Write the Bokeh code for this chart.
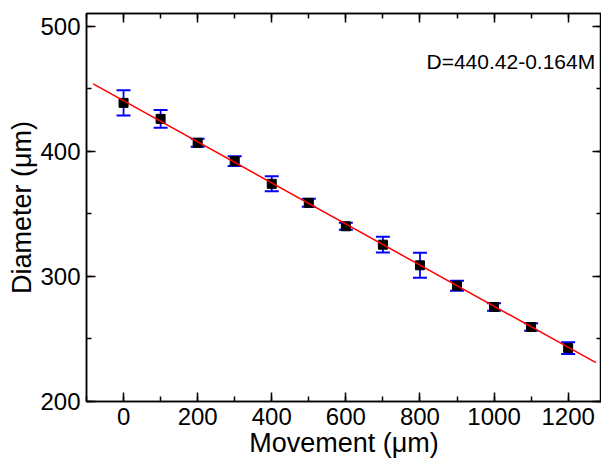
from bokeh.plotting import figure
from bokeh.models import (ColumnDataSource, Whisker, LinearAxis, SingleIntervalTicker,
                          Range1d, Label, CustomJSTickFormatter)
from bokeh.embed import file_html
from bokeh.resources import INLINE

# ---- data ----
movement = [0, 100, 200, 300, 400, 500, 600, 700, 800, 900, 1000, 1100, 1200]
diameter = [438.6, 425.8, 406.7, 392.0, 373.9, 358.7, 340.0, 325.3, 308.8, 292.5, 275.5, 259.5, 242.7]
error = [10.0, 7.0, 3.2, 3.9, 6.0, 3.2, 2.8, 6.3, 10.0, 4.0, 3.0, 3.0, 4.7]
fit_x = [-82, 1275]
fit_y = [453.8, 231.0]
fit_label = "D=440.42-0.164M"

FONT = "Liberation Sans"
BLUE = "#0000ff"

lower = [d - e for d, e in zip(diameter, error)]
upper = [d + e for d, e in zip(diameter, error)]
src = ColumnDataSource(dict(x=movement, y=diameter, lower=lower, upper=upper))

p = figure(width=601, height=460, output_backend="svg", toolbar_location=None,
           x_range=Range1d(-100, 1290), y_range=Range1d(200, 510),
           min_border_left=86, min_border_right=0, min_border_top=13, min_border_bottom=59,
           background_fill_color="white", border_fill_color="white")
p.xgrid.visible = False
p.ygrid.visible = False
p.outline_line_color = "black"
p.outline_line_width = 1.5

def style(ax, labels=True):
    ax.axis_line_color = "black"
    ax.axis_line_width = 1.5
    ax.major_tick_line_color = "black"
    ax.major_tick_line_width = 1.5
    ax.minor_tick_line_color = "black"
    ax.minor_tick_line_width = 1.5
    ax.major_tick_in = 9
    ax.major_tick_out = 0
    ax.minor_tick_in = 5
    ax.minor_tick_out = 0
    if labels:
        ax.major_label_text_font = FONT
        ax.major_label_text_font_size = "24px"
        ax.major_label_text_color = "black"
        ax.major_label_standoff = 6
        ax.axis_label_text_font = FONT
        ax.axis_label_text_font_size = "27px"
        ax.axis_label_text_font_style = "normal"
        ax.axis_label_text_color = "black"
        ax.axis_label_standoff = 0
    else:
        ax.formatter = CustomJSTickFormatter(code="return ''")
        ax.major_label_standoff = 0

p.xaxis.ticker = SingleIntervalTicker(interval=200, num_minor_ticks=2)
p.yaxis.ticker = SingleIntervalTicker(interval=100, num_minor_ticks=2)
p.xaxis.axis_label = "Movement (μm)"
p.yaxis.axis_label = "Diameter (μm)"
style(p.xaxis[0])
style(p.yaxis[0])

top = LinearAxis(ticker=SingleIntervalTicker(interval=200, num_minor_ticks=2))
right = LinearAxis(ticker=SingleIntervalTicker(interval=100, num_minor_ticks=2))
style(top, labels=False)
style(right, labels=False)
p.add_layout(top, "above")
p.add_layout(right, "right")

w = Whisker(source=src, base="x", lower="lower", upper="upper",
            line_color=BLUE, line_width=1.8)
w.upper_head.size = 14
w.lower_head.size = 14
w.upper_head.line_color = BLUE
w.lower_head.line_color = BLUE
w.upper_head.line_width = 2
w.lower_head.line_width = 2
p.add_layout(w)

p.scatter("x", "y", source=src, marker="square", size=9,
          fill_color="black", line_color="black")

p.line(fit_x, fit_y, line_color="#ff0000", line_width=1.5)

p.add_layout(Label(x=1273, y=471.4, text=fit_label, text_align="right",
                   text_baseline="alphabetic", text_font=FONT,
                   text_font_size="21px", text_color="black"))

open("out.html", "w").write(file_html(p, INLINE))
